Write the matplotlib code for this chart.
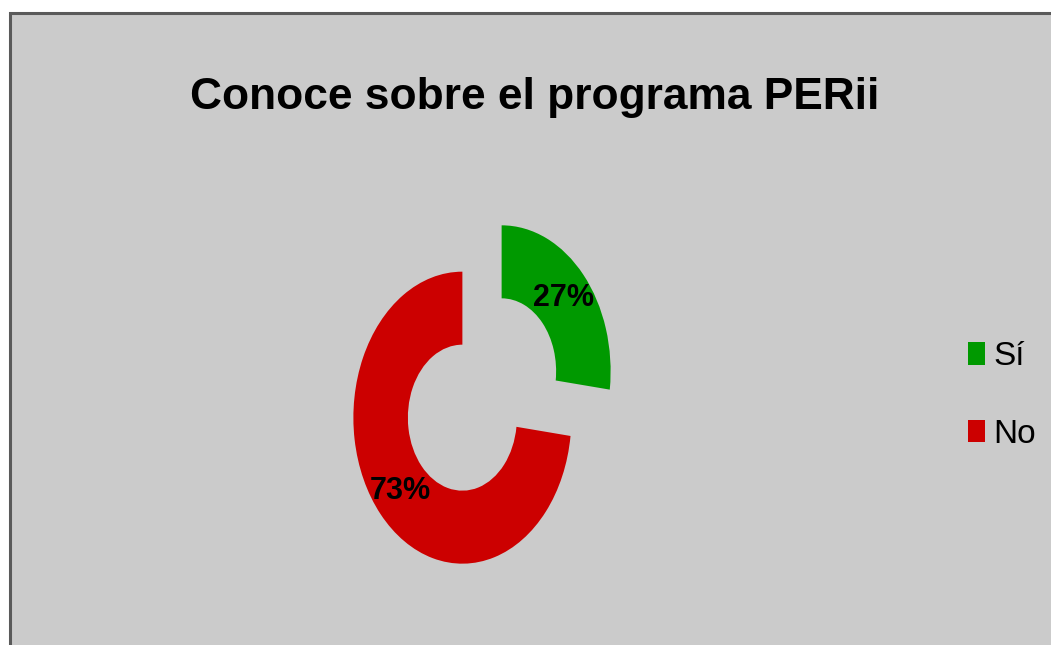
import matplotlib.pyplot as plt
from matplotlib.patches import Rectangle

# data
labels = ['Sí', 'No']
values = [27, 73]
colors = ['#009900', '#cc0000']
title = 'Conoce sobre el programa PERii'

W, H = 1051, 645
fig = plt.figure(figsize=(W / 100, H / 100), dpi=100)
fig.patch.set_facecolor('white')
font = ['Liberation Sans', 'DejaVu Sans']

# gray chart area with dark border on top/left (cut off at right/bottom)
bg = Rectangle((9.5 / W, -0.1), 1.1, 1.1 - 13.5 / H, transform=fig.transFigure,
               facecolor='#cbcbcb', edgecolor='#5a5a5a', linewidth=2.2, zorder=-5)
fig.patches.append(bg)

# axes placed so that one data unit = 109 px wide and 146 px tall
cx, cy = 482, 394.5
rx, ry = 109, 146
ax = fig.add_axes([(cx - 1.5 * rx) / W, (H - cy - 1.5 * ry) / H, 3 * rx / W, 3 * ry / H])
ax.set_facecolor('none')

wedges, texts, autotexts = ax.pie(
    values, colors=colors, startangle=90, counterclock=False,
    explode=[0.24, 0.24], autopct='%1.0f%%', pctdistance=0.76,
    wedgeprops=dict(width=0.5, edgecolor='none'),
    textprops=dict(fontsize=22, fontweight='bold', family=font))
ax.set_aspect('auto')
ax.set_xlim(-1.5, 1.5)
ax.set_ylim(-1.5, 1.5)
ax.axis('off')

ttl = fig.text(535 / W, 1 - 97 / H, title,
               ha='center', va='center', fontsize=30, fontweight='bold', family=font)

leg = fig.legend(wedges, labels, loc='center left', bbox_to_anchor=(968 / W, 1 - 395.5 / H),
                 frameon=False, borderpad=0, borderaxespad=0,
                 handlelength=0.5, handleheight=0.66, handletextpad=0.25, labelspacing=1.4,
                 prop=dict(size=24, family=font))

# shrink title so its width matches the narrow font of the original
fig.canvas.draw()
r = fig.canvas.get_renderer()
w = ttl.get_window_extent(r).width
ttl.set_fontsize(30 * 688 / w)

fig.savefig('out.png', dpi=100, facecolor=fig.get_facecolor())
